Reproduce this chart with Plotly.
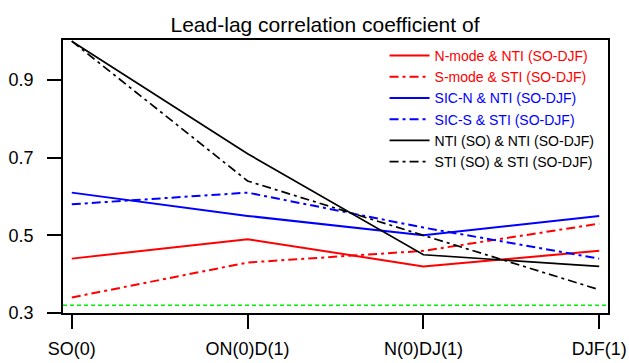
import plotly.graph_objects as go

categories = ["SO(0)", "ON(0)D(1)", "N(0)DJ(1)", "DJF(1)"]
n_mode_nti = [0.44, 0.49, 0.42, 0.46]
s_mode_sti = [0.34, 0.43, 0.46, 0.53]
sic_n_nti = [0.61, 0.55, 0.50, 0.55]
sic_s_sti = [0.58, 0.61, 0.52, 0.44]
nti_so_nti = [1.0, 0.71, 0.45, 0.42]
sti_so_sti = [1.0, 0.64, 0.50, 0.36]
threshold = 0.32
y_ticks = [0.3, 0.5, 0.7, 0.9]

series = [
    ("N-mode &amp; NTI (SO-DJF)", n_mode_nti, "#FF0000", "solid", 2),
    ("S-mode &amp; STI (SO-DJF)", s_mode_sti, "#FF0000", "9px,4px,3px,4px", 2),
    ("SIC-N &amp; NTI (SO-DJF)", sic_n_nti, "#0000FF", "solid", 2),
    ("SIC-S &amp; STI (SO-DJF)", sic_s_sti, "#0000FF", "9px,4px,3px,4px", 2),
    ("NTI (SO) &amp; NTI (SO-DJF)", nti_so_nti, "#000000", "solid", 1.7),
    ("STI (SO) &amp; STI (SO-DJF)", sti_so_sti, "#000000", "9px,4px,3px,4px", 1.7),
]

FONT = "Liberation Sans, Arial, Helvetica, sans-serif"

fig = go.Figure()
for name, vals, color, dash, width in series:
    fig.add_trace(go.Scatter(
        x=categories, y=vals, mode="lines",
        name=f'<span style="color:{color}">{name}</span>',
        line=dict(color=color, dash=dash, width=width),
    ))

fig.add_hline(y=threshold, line=dict(color="#00EE00", dash="4px,3px", width=1.5))

fig.update_layout(
    width=629, height=363,
    margin=dict(l=63, r=21, t=40, b=50, autoexpand=False),
    paper_bgcolor="white", plot_bgcolor="white",
    font=dict(family=FONT, color="black"),
    title=dict(text="Lead-lag correlation coefficient of",
               x=(325 - 63) / 545, xref="paper", xanchor="center",
               y=1 - 17 / 363, yref="container", yanchor="top",
               font=dict(size=21, family=FONT, color="black"),
               automargin=False),
    showlegend=True,
    legend=dict(x=0.59, y=1.0, xanchor="left", yanchor="top",
                bgcolor="rgba(0,0,0,0)", borderwidth=0,
                font=dict(size=14, family=FONT), itemwidth=40,
                tracegroupgap=0),
)

fig.update_xaxes(
    type="category", range=[-0.05, 3.05], automargin=False,
    showline=True, linecolor="black", linewidth=1.5, mirror=True,
    ticks="outside", ticklen=14, tickwidth=2, tickcolor="black",
    tickfont=dict(size=18, family=FONT, color="black"),
    ticklabelstandoff=5,
    showgrid=False, zeroline=False,
)
fig.update_yaxes(
    range=[0.3, 1.003], automargin=False,
    tickvals=y_ticks, ticktext=[f"{v:.1f}" for v in y_ticks],
    showline=True, linecolor="black", linewidth=1.5, mirror=True,
    ticks="outside", ticklen=14, tickwidth=2, tickcolor="black",
    tickfont=dict(size=18, family=FONT, color="black"),
    ticklabelstandoff=10,
    showgrid=False, zeroline=False,
)

fig.write_html("out.html")
